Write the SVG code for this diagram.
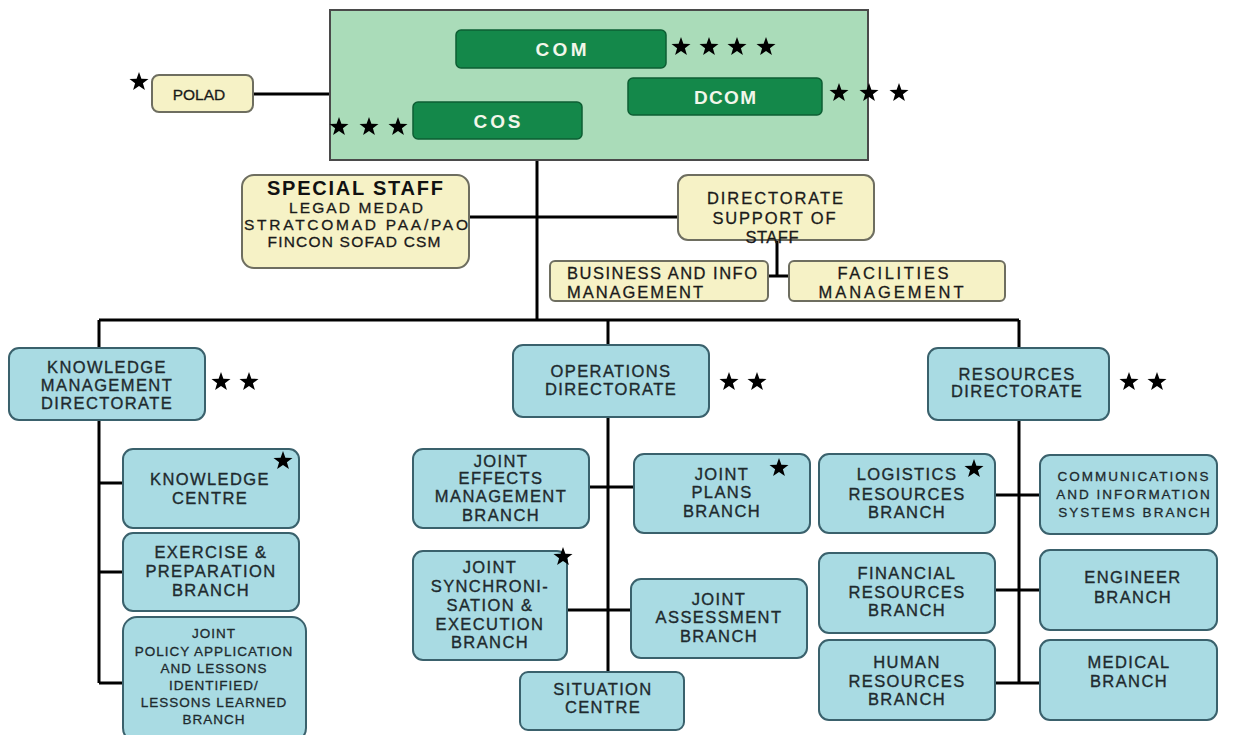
<svg xmlns="http://www.w3.org/2000/svg" width="1233" height="735" viewBox="0 0 1233 735">
<style>
.bg{fill:#ffffff}
.blue{fill:#a9dbe3;stroke:#3a616c;stroke-width:2}
.yel{fill:#f6f2c6;stroke:#6e6e60;stroke-width:2}
.hq{fill:#aadcb9;stroke:#4a4a4a;stroke-width:2}
.dg{fill:#14884a;stroke:#0d5e33;stroke-width:1.5}
.t{font-family:"Liberation Sans",Arial,sans-serif;font-size:16.5px;fill:#1e2a2e;stroke:#1e2a2e;stroke-width:0.35;text-anchor:middle;letter-spacing:1.4px}
.ts{font-family:"Liberation Sans",Arial,sans-serif;font-size:13.5px;fill:#1e2a2e;stroke:#1e2a2e;stroke-width:0.3;text-anchor:middle;letter-spacing:1px}
.tc{font-family:"Liberation Sans",Arial,sans-serif;font-size:13.5px;fill:#1e2a2e;stroke:#1e2a2e;stroke-width:0.3;text-anchor:middle;letter-spacing:2px}
.ty{font-family:"Liberation Sans",Arial,sans-serif;font-size:16.5px;fill:#1a1a1a;stroke:#1a1a1a;stroke-width:0.3;text-anchor:middle}
.tys{font-family:"Liberation Sans",Arial,sans-serif;font-size:15.5px;fill:#1a1a1a;stroke:#1a1a1a;stroke-width:0.3;text-anchor:middle}
.tyl{font-family:"Liberation Sans",Arial,sans-serif;font-size:16.5px;fill:#1a1a1a;stroke:#1a1a1a;stroke-width:0.3;text-anchor:start}
.tw{font-family:"Liberation Sans",Arial,sans-serif;font-size:19px;font-weight:bold;fill:#f2f6ea;text-anchor:middle}
.tb{font-family:"Liberation Sans",Arial,sans-serif;font-size:20px;font-weight:bold;fill:#111;text-anchor:middle}
.ln{stroke:#000;stroke-width:3;fill:none}
.star{fill:#000}
</style>
<defs>
<polygon id="st" points="0,-10 2.4,-3.3 9.5,-3.1 3.9,1.3 5.9,8.1 0,4.1 -5.9,8.1 -3.9,1.3 -9.5,-3.1 -2.4,-3.3"/>
</defs>
<rect class="bg" x="0" y="0" width="1233" height="735"/>

<g id="connectors">
<path class="ln" d="M253,94 H330"/>
<path class="ln" d="M537,139 V320"/>
<path class="ln" d="M469,217 H678"/>
<path class="ln" d="M777,240 V276 M768,276 H789"/>
<path class="ln" d="M99,320 H1019"/>
<path class="ln" d="M99,320 V348 M608,320 V345 M1019,320 V348"/>
<path class="ln" d="M99,420 V683 M99,483 H123 M99,572 H123 M99,683 H123"/>
<path class="ln" d="M608,417 V672 M589,487 H634 M567,610 H631"/>
<path class="ln" d="M1019,420 V683 M995,495 H1041 M995,590 H1041 M995,683 H1041"/>
</g>

<g id="hq">
<rect class="hq" x="330" y="10" width="538" height="150"/>
</g>
<g id="com">
<rect class="dg" x="456" y="30" width="210" height="38" rx="5"/>
<text class="tw" x="561" y="56" textLength="51" lengthAdjust="spacing">COM</text>
<use href="#st" class="star" x="681" y="47"/><use href="#st" class="star" x="709" y="47"/><use href="#st" class="star" x="737" y="47"/><use href="#st" class="star" x="766" y="47"/>
</g>
<g id="dcom">
<rect class="dg" x="628" y="78" width="194" height="37" rx="5"/>
<text class="tw" x="725" y="104" textLength="62" lengthAdjust="spacing">DCOM</text>
<use href="#st" class="star" x="839" y="93"/><use href="#st" class="star" x="869" y="93"/><use href="#st" class="star" x="899" y="93"/>
</g>
<g id="cos">
<rect class="dg" x="413" y="102" width="169" height="37" rx="5"/>
<text class="tw" x="497" y="128" textLength="47" lengthAdjust="spacing">COS</text>
<use href="#st" class="star" x="339" y="127"/><use href="#st" class="star" x="369" y="127"/><use href="#st" class="star" x="398" y="127"/>
</g>
<g id="polad">
<rect class="yel" x="152" y="75" width="101" height="37" rx="7"/>
<text class="tys" x="199" y="100">POLAD</text>
<use href="#st" class="star" x="139" y="82"/>
</g>

<g id="special-staff">
<rect class="yel" x="242" y="175" width="227" height="93" rx="12"/>
<text class="tb" x="355" y="195" textLength="176" lengthAdjust="spacing">SPECIAL STAFF</text>
<text class="tys" x="356" y="213" textLength="134" lengthAdjust="spacing">LEGAD MEDAD</text>
<text class="tys" x="356" y="230" textLength="224" lengthAdjust="spacing">STRATCOMAD PAA/PAO</text>
<text class="tys" x="354" y="247" textLength="173" lengthAdjust="spacing">FINCON SOFAD CSM</text>
</g>
<g id="dir-support">
<rect class="yel" x="678" y="175" width="196" height="65" rx="10"/>
<text class="ty" x="775" y="204" textLength="136" lengthAdjust="spacing">DIRECTORATE</text>
<text class="ty" x="774" y="224" textLength="123" lengthAdjust="spacing">SUPPORT OF</text>
<text class="ty" x="772" y="243" textLength="53" lengthAdjust="spacing">STAFF</text>
</g>
<g id="business">
<rect class="yel" x="550" y="261" width="218" height="40" rx="5"/>
<text class="tyl" x="567" y="279" textLength="190" lengthAdjust="spacing">BUSINESS AND INFO</text>
<text class="tyl" x="567" y="298" textLength="136" lengthAdjust="spacing">MANAGEMENT</text>
</g>
<g id="facilities">
<rect class="yel" x="789" y="261" width="216" height="40" rx="5"/>
<text class="ty" x="893" y="279" textLength="111" lengthAdjust="spacing">FACILITIES</text>
<text class="ty" x="891" y="298" textLength="145" lengthAdjust="spacing">MANAGEMENT</text>
</g>

<g id="kmd">
<rect class="blue" x="9" y="348" width="196" height="72" rx="10"/>
<text class="t" x="107" y="373">KNOWLEDGE</text>
<text class="t" x="107" y="391">MANAGEMENT</text>
<text class="t" x="107" y="409">DIRECTORATE</text>
<use href="#st" class="star" x="221" y="382"/><use href="#st" class="star" x="249" y="382"/>
</g>
<g id="knowledge-centre">
<rect class="blue" x="123" y="449" width="176" height="79" rx="10"/>
<text class="t" x="210" y="485">KNOWLEDGE</text>
<text class="t" x="210" y="504">CENTRE</text>
<use href="#st" class="star" x="283" y="461"/>
</g>
<g id="exercise">
<rect class="blue" x="123" y="533" width="176" height="78" rx="10"/>
<text class="t" x="211" y="558">EXERCISE &amp;</text>
<text class="t" x="211" y="577">PREPARATION</text>
<text class="t" x="211" y="596">BRANCH</text>
</g>
<g id="jpa">
<rect class="blue" x="123" y="617" width="183" height="125" rx="14"/>
<text class="ts" x="214" y="638">JOINT</text>
<text class="ts" x="214" y="656">POLICY APPLICATION</text>
<text class="ts" x="214" y="673">AND LESSONS</text>
<text class="ts" x="214" y="690">IDENTIFIED/</text>
<text class="ts" x="214" y="707">LESSONS LEARNED</text>
<text class="ts" x="214" y="724">BRANCH</text>
</g>

<g id="ops">
<rect class="blue" x="513" y="345" width="196" height="72" rx="10"/>
<text class="t" x="611" y="377">OPERATIONS</text>
<text class="t" x="611" y="395">DIRECTORATE</text>
<use href="#st" class="star" x="729" y="382"/><use href="#st" class="star" x="757" y="382"/>
</g>
<g id="jemb">
<rect class="blue" x="413" y="449" width="176" height="79" rx="10"/>
<text class="t" x="501" y="467">JOINT</text>
<text class="t" x="501" y="484">EFFECTS</text>
<text class="t" x="501" y="502">MANAGEMENT</text>
<text class="t" x="501" y="521">BRANCH</text>
</g>
<g id="jpb">
<rect class="blue" x="634" y="454" width="176" height="79" rx="10"/>
<text class="t" x="722" y="480">JOINT</text>
<text class="t" x="722" y="498">PLANS</text>
<text class="t" x="722" y="517">BRANCH</text>
<use href="#st" class="star" x="779" y="468"/>
</g>
<g id="jsse">
<rect class="blue" x="413" y="551" width="154" height="109" rx="10"/>
<text class="t" x="490" y="573">JOINT</text>
<text class="t" x="490" y="592">SYNCHRONI-</text>
<text class="t" x="490" y="611">SATION &amp;</text>
<text class="t" x="490" y="630">EXECUTION</text>
<text class="t" x="490" y="648">BRANCH</text>
<use href="#st" class="star" x="563" y="557"/>
</g>
<g id="jab">
<rect class="blue" x="631" y="579" width="176" height="79" rx="10"/>
<text class="t" x="719" y="605">JOINT</text>
<text class="t" x="719" y="623">ASSESSMENT</text>
<text class="t" x="719" y="642">BRANCH</text>
</g>
<g id="situation">
<rect class="blue" x="520" y="672" width="164" height="58" rx="8"/>
<text class="t" x="603" y="695">SITUATION</text>
<text class="t" x="603" y="713">CENTRE</text>
</g>

<g id="rd">
<rect class="blue" x="928" y="348" width="181" height="72" rx="10"/>
<text class="t" x="1017" y="380">RESOURCES</text>
<text class="t" x="1017" y="397">DIRECTORATE</text>
<use href="#st" class="star" x="1129" y="382"/><use href="#st" class="star" x="1157" y="382"/>
</g>
<g id="lrb">
<rect class="blue" x="819" y="454" width="176" height="79" rx="10"/>
<text class="t" x="907" y="480">LOGISTICS</text>
<text class="t" x="907" y="500">RESOURCES</text>
<text class="t" x="907" y="518">BRANCH</text>
<use href="#st" class="star" x="974" y="469"/>
</g>
<g id="cis">
<rect class="blue" x="1040" y="455" width="177" height="79" rx="10"/>
<text class="tc" x="1134" y="481">COMMUNICATIONS</text>
<text class="tc" x="1134" y="499">AND INFORMATION</text>
<text class="tc" x="1135" y="517">SYSTEMS BRANCH</text>
</g>
<g id="frb">
<rect class="blue" x="819" y="553" width="176" height="80" rx="10"/>
<text class="t" x="907" y="579">FINANCIAL</text>
<text class="t" x="907" y="598">RESOURCES</text>
<text class="t" x="907" y="616">BRANCH</text>
</g>
<g id="eb">
<rect class="blue" x="1040" y="550" width="177" height="80" rx="10"/>
<text class="t" x="1133" y="583">ENGINEER</text>
<text class="t" x="1133" y="603">BRANCH</text>
</g>
<g id="hrb">
<rect class="blue" x="819" y="640" width="176" height="80" rx="10"/>
<text class="t" x="907" y="668">HUMAN</text>
<text class="t" x="907" y="687">RESOURCES</text>
<text class="t" x="907" y="705">BRANCH</text>
</g>
<g id="mb">
<rect class="blue" x="1040" y="640" width="177" height="80" rx="10"/>
<text class="t" x="1129" y="668">MEDICAL</text>
<text class="t" x="1129" y="687">BRANCH</text>
</g>
</svg>
